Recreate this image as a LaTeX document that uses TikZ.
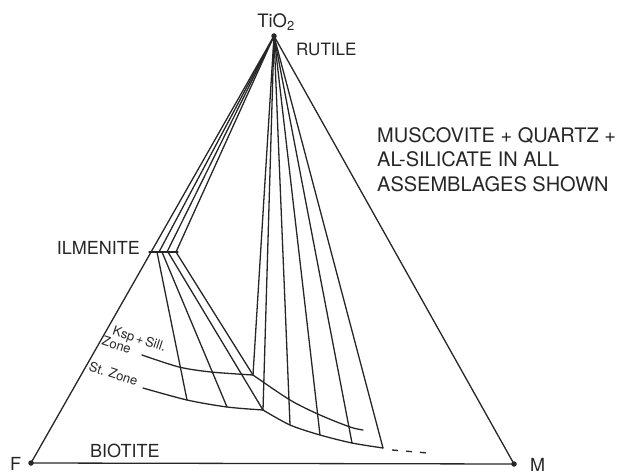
\documentclass[tikz,border=0pt]{standalone}
\usepackage{fontspec}
\setmainfont{TeX Gyre Heros}
\definecolor{ink}{HTML}{262626}
\begin{document}
\begin{tikzpicture}[x=1pt,y=1pt,
  tie/.style={draw=ink, line width=1.3pt, line join=round, line cap=round},
  lbl/.style={text=ink, inner sep=0pt},
  big/.style={lbl, font=\fontsize{18}{20}\selectfont},
  zonelbl/.style={lbl, font=\fontsize{13}{13}\selectfont, rotate=-18, align=left},
  dot/.style={circle, fill=ink, inner sep=0pt, minimum size=5.5pt}]
\useasboundingbox (0,0) rectangle (623,474);
% corners
\node[dot] (A) at (274,438) {};
\node[dot] (F) at (31,11) {};
\node[dot] (M) at (514,10) {};
% ilmenite
\coordinate (ilmL) at (149,222);
\coordinate (ilmR) at (178,222);
\coordinate (ia) at (159,222);
\coordinate (ib) at (167,222);
\coordinate (ic) at (176,222);
\coordinate (id1) at (157,222);
\coordinate (id2) at (162,222);
\coordinate (id3) at (168,222);
\coordinate (id4) at (176,222);
% Ksp + Sill zone biotites
\coordinate (k0) at (142,119);
\coordinate (k1) at (179,107);
\coordinate (k2) at (211,102);
\coordinate (kk) at (253,99);
\coordinate (k5) at (290,74);
\coordinate (k6) at (320,59);
\coordinate (k7) at (350,47);
\coordinate (k8) at (363,44);
% St zone biotites
\coordinate (s0) at (143,86);
\coordinate (s1) at (187,74);
\coordinate (s2) at (227,67);
\coordinate (sk) at (263,64);
\coordinate (s5) at (290,49);
\coordinate (s6) at (320,39);
\coordinate (s7) at (352,31);
\coordinate (s8) at (383,26);
\coordinate (d1) at (392,24);
\coordinate (d2) at (428,21);
% triangle
\draw[tie] (F.center) -- (A.center) -- (M.center) -- (F.center);
% ilmenite segment and tie lines
\draw[tie] (ilmL) -- (ilmR);
\draw[tie] (A.center) -- (ia);
\draw[tie] (A.center) -- (ib);
\draw[tie] (A.center) -- (ic);
\draw[tie] (id1) -- (s1);
\draw[tie] (id2) -- (s2);
\draw[tie] (id3) -- (sk);
\draw[tie] (id4) -- (kk);
% rutile - biotite tie lines
\draw[tie] (A.center) -- (kk);
\draw[tie] (A.center) -- (sk);
\draw[tie] (A.center) -- (s5);
\draw[tie] (A.center) -- (s6);
\draw[tie] (A.center) -- (s7);
\draw[tie] (A.center) -- (s8);
% biotite curves
\draw[tie] plot[smooth, tension=0.5] coordinates {(k0) (k1) (k2) (kk)};
\draw[tie] plot[smooth, tension=0.5] coordinates {(kk) (k5) (k6) (k7) (k8)};
\draw[tie] plot[smooth, tension=0.5] coordinates {(s0) (s1) (s2) (sk)};
\draw[tie] plot[smooth, tension=0.5] coordinates {(sk) (s5) (s6) (s7) (s8)};
\draw[tie, line cap=butt, dash pattern=on 6pt off 8pt] (d1) -- (d2);
% labels
\node[lbl, font=\fontsize{18.5}{20}\selectfont] (tio2) at (276,452) {TiO\textsubscript{2}};
\node[lbl, font=\fontsize{17}{19}\selectfont, anchor=base west] (rut) at (296,418) {RUTILE};
\node[lbl, font=\fontsize{20}{22}\selectfont, anchor=base west] (mus1) at (377,331) {MUSCOVITE + QUARTZ +};
\node[lbl, font=\fontsize{20}{22}\selectfont, anchor=base west] (mus2) at (377,307) {AL-SILICATE IN ALL};
\node[lbl, font=\fontsize{20}{22}\selectfont, anchor=base west] (mus3) at (377,282) {ASSEMBLAGES SHOWN};
\node[big, anchor=base east] (ilm) at (140,219) {ILMENITE};
\node[big, anchor=base west] (bio) at (90,17) {BIOTITE};
\node[big, anchor=base west] (Fl) at (10,4) {F};
\node[big, anchor=base west] (Ml) at (530,3) {M};
\node[zonelbl, anchor=north west] (ksp) at (108,151) {\hspace*{7pt}Ksp\,+\,Sill.\\Zone};
\node[zonelbl, anchor=north west] (stz) at (91,113) {St. Zone};
\end{tikzpicture}
\end{document}
